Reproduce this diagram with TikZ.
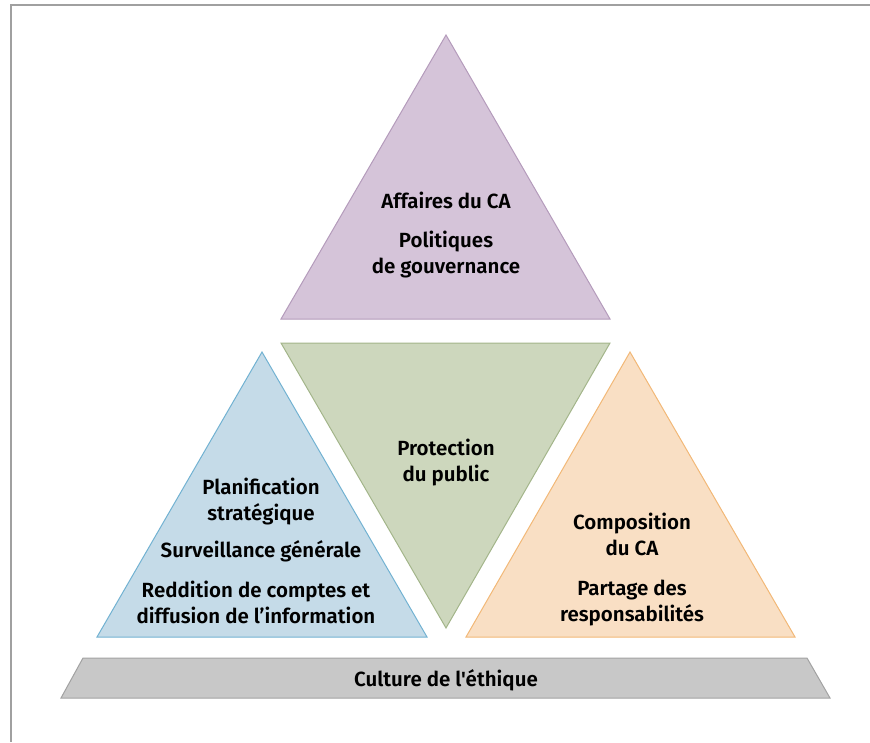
\documentclass[tikz,border=0pt]{standalone}
\usepackage{fontspec}
\setmainfont{Fira Sans}[UprightFont=* SemiBold, Ligatures=TeXOff]
\definecolor{purfill}{HTML}{D5C4D9}
\definecolor{purline}{HTML}{B49BBB}
\definecolor{grnfill}{HTML}{CDD7BD}
\definecolor{grnline}{HTML}{A3B58A}
\definecolor{blufill}{HTML}{C5DBE8}
\definecolor{bluline}{HTML}{72B2D2}
\definecolor{orafill}{HTML}{F9DFC4}
\definecolor{oraline}{HTML}{F2B877}
\definecolor{gryfill}{HTML}{C8C8C8}
\definecolor{gryline}{HTML}{A2A2A2}
\definecolor{frame}{HTML}{A0A0A0}
\tikzset{
  tri/.style={line width=1pt, line join=miter},
  lbl/.style={align=center, inner sep=0pt, anchor=base, font=\fontsize{20.5}{26}\selectfont, text=black}
}
\begin{document}
\begin{tikzpicture}[x=1pt,y=-1pt]
\useasboundingbox (0,0) rectangle (870,742);
\draw[frame, line width=1.5pt] (870,5) -- (11,5) -- (11,742);
% triangles
\draw[tri, draw=purline, fill=purfill] (446,35) -- (610,319) -- (281,319) -- cycle;
\draw[tri, draw=grnline, fill=grnfill] (281,343) -- (610,343) -- (446,628) -- cycle;
\draw[tri, draw=bluline, fill=blufill] (262,352) -- (427,637) -- (97,637) -- cycle;
\draw[tri, draw=oraline, fill=orafill] (630,352) -- (795,637) -- (466,637) -- cycle;
\draw[tri, draw=gryline, fill=gryfill] (83,658) -- (807,658) -- (830,698) -- (61,698) -- cycle;
% labels (base = baseline of last line)
\node[lbl] (p1) at (446,208) {Affaires du CA};
\node[lbl] (p2) at (446,273) {Politiques\\de gouvernance};
\node[lbl] (g1) at (446,481) {Protection\\du public};
\node[lbl] (b1) at (261,520) {Planification\\stratégique};
\node[lbl] (b2) at (261,557) {Surveillance générale};
\node[lbl] (b3) at (256,623) {Reddition de comptes et\\diffusion de l’information};
\node[lbl] (o1) at (632,555) {Composition\\du CA};
\node[lbl] (o2) at (632,621) {Partage des\\responsabilités};
\node[lbl] (c1) at (446,686) {Culture de l'éthique};
\end{tikzpicture}
\end{document}
